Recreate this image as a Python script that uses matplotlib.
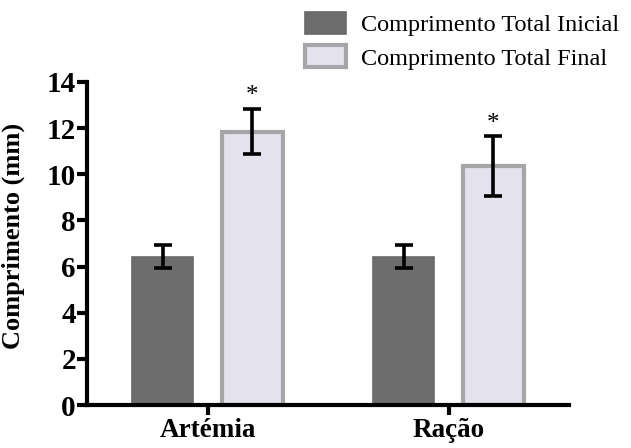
import numpy as np
import matplotlib
matplotlib.use("Agg")
import matplotlib.pyplot as plt

GROUPS = ["Artémia", "Ração"]
SERIES = ["Comprimento Total Inicial", "Comprimento Total Final"]
INICIAL = [6.43, 6.43]
INICIAL_ERR = [0.5, 0.5]
FINAL = [11.85, 10.35]
FINAL_ERR = [0.98, 1.3]
SIG = ["*", "*"]

DARK, DARK_EDGE = "#6d6d6d", "#6a6a6a"
LIGHT, LIGHT_EDGE = "#e4e3ed", "#a6a6a9"

plt.rcParams["font.family"] = ["Liberation Serif", "DejaVu Serif"]

W, H = 631, 448
fig = plt.figure(figsize=(W / 100, H / 100), dpi=100)
ax = fig.add_axes([87 / W, 1 - 405 / H, (569 - 87) / W, (405 - 82) / H])

x = np.arange(len(GROUPS))
w, off = 0.255, 0.186
ekw = dict(ecolor="black", elinewidth=2.6, capsize=6.5, capthick=2.6)
b1 = ax.bar(x - off, INICIAL, w, yerr=INICIAL_ERR, color=DARK, edgecolor=DARK_EDGE,
            linewidth=1.2, error_kw=ekw, label=SERIES[0], zorder=2)
b2 = ax.bar(x + off, FINAL, w, yerr=FINAL_ERR, color=LIGHT, edgecolor=LIGHT_EDGE,
            linewidth=3.0, error_kw=ekw, label=SERIES[1], zorder=2)
for xi, v, e, s in zip(x + off, FINAL, FINAL_ERR, SIG):
    ax.annotate(s, (xi, v + e), xytext=(0, 9), textcoords="offset points",
                ha="center", va="center", fontsize=18)

ax.set_xlim(-0.5, 1.5)
ax.set_ylim(0, 14)
ax.set_yticks(range(0, 15, 2))
ax.set_xticks(x)
ax.set_xticklabels(GROUPS)
for sp in ["top", "right"]:
    ax.spines[sp].set_visible(False)
for sp in ["left", "bottom"]:
    ax.spines[sp].set_linewidth(3.0)
    ax.spines[sp].set_capstyle("projecting")
ax.tick_params(axis="both", width=3.0, length=7.5, pad=0.5)
ax.tick_params(axis="y", labelsize=21)
ax.tick_params(axis="x", labelsize=19.5, pad=2)
for lab in ax.get_xticklabels() + ax.get_yticklabels():
    lab.set_fontweight("bold")
ax.set_ylabel("Comprimento (mm)", fontsize=19, fontweight="bold")
ax.yaxis.set_label_coords(25 / W, 1 - 236 / H, transform=fig.transFigure)

fig.legend(handles=[b1, b2], loc="upper left", bbox_to_anchor=(305 / W, 1 - 12 / H),
           frameon=False, fontsize=17.5, handlelength=1.7, handleheight=1.0,
           handletextpad=0.6, labelspacing=0.38, borderpad=0, borderaxespad=0)

fig.savefig("out.png", dpi=100, facecolor="white")
